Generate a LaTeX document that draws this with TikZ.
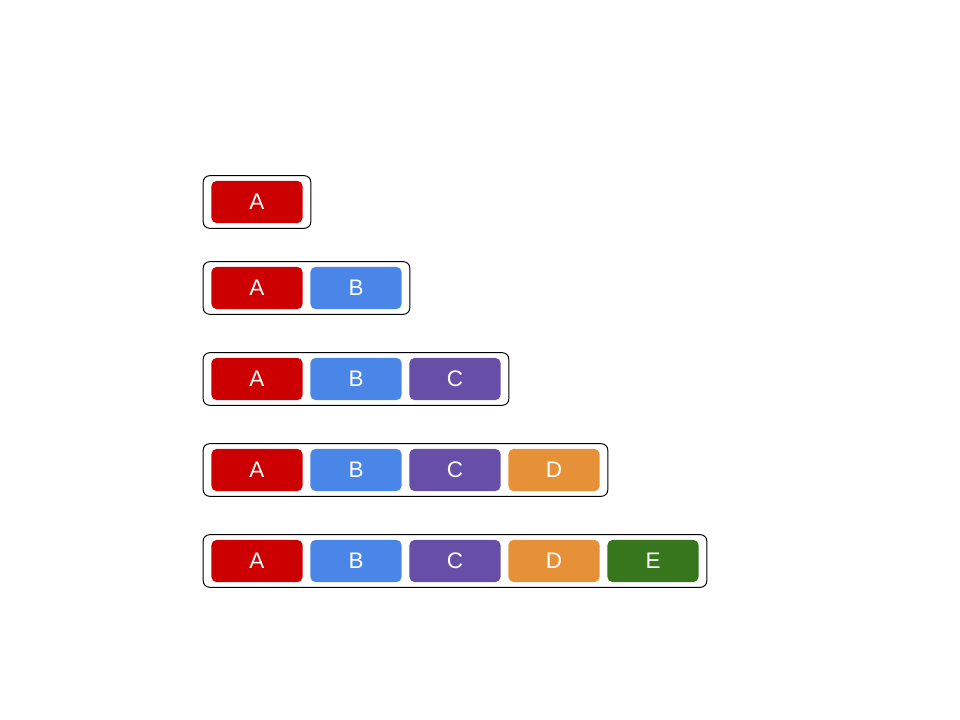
\documentclass[tikz,border=0pt]{standalone}
\usepackage{fontspec}
\setmainfont{Liberation Sans}
\usepackage{tikz}
\usetikzlibrary{fit}
\usepackage{xcolor}

\definecolor{blk1}{HTML}{CC0000}
\definecolor{blk2}{HTML}{4A86E8}
\definecolor{blk3}{HTML}{674EA7}
\definecolor{blk4}{HTML}{E69138}
\definecolor{blk5}{HTML}{38761D}

\begin{document}
\begin{tikzpicture}[x=0.025cm,y=-0.025cm,
    block/.style={rectangle, rounded corners=3.5pt, minimum width=2.275cm,
      minimum height=1.05cm, inner sep=0pt, text=white,
      font=\fontsize{16}{18}\selectfont},
    frame/.style={draw=black, line width=0.7pt, rounded corners=4.5pt,
      inner xsep=0.2cm, inner ysep=0.125cm}]
    \useasboundingbox (0,0) rectangle (960,720);
    \def\letters{{"A","B","C","D","E"}}

    % Reihen: Anzahl der Bloecke / Hoehe
    \foreach \len/\y in {1/202,2/288,3/379,4/470,5/561}{
        \foreach \k in {1,...,\len}{
            \pgfmathsetmacro\lbl{\letters[\k-1]}
            \node[block, fill=blk\k] (r\len-\k) at ({257+99*(\k-1)},\y) {\lbl};
        }
        % Rahmen um die Reihe
        \node[frame, fit=(r\len-1)(r\len-\len)] (box\len) {};
    }
\end{tikzpicture}
\end{document}
